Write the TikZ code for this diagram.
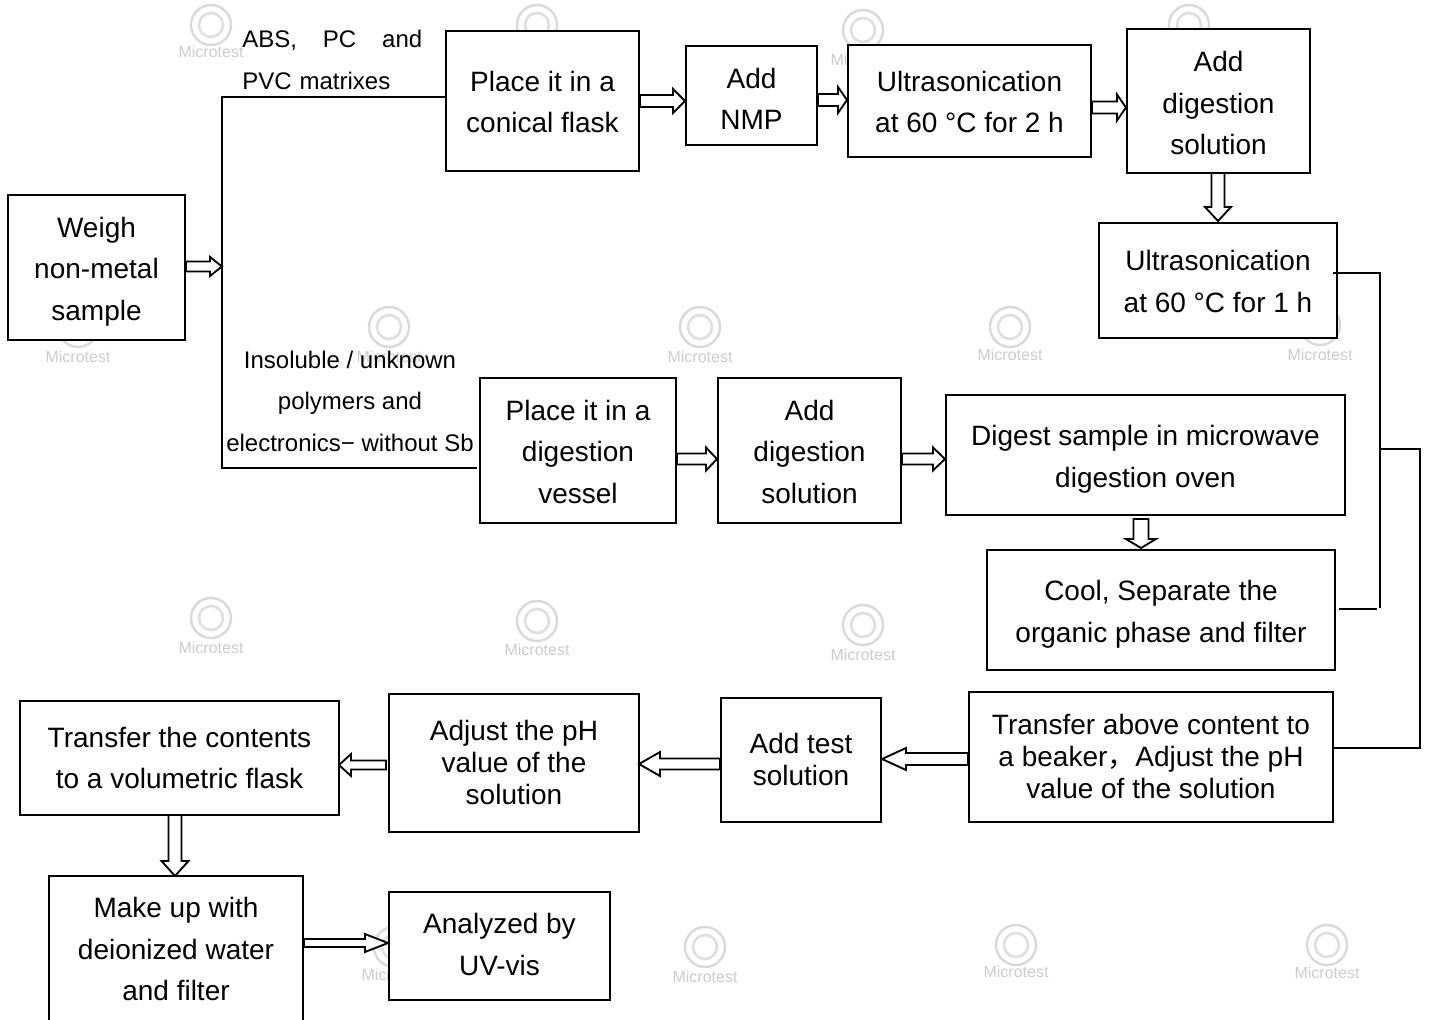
\documentclass[tikz,border=0pt]{standalone}
\usepackage{fontspec}
\setmainfont{Liberation Sans}
\newfontfamily\cjkf{Noto Sans CJK SC}
\usetikzlibrary{arrows.meta,calc}
\tikzset{
  bx/.style 2 args={draw=black,line width=1.5pt,fill=white,minimum width=#1*.75pt,minimum height=#2*.75pt,inner sep=0pt,align=center,font=\fontsize{21}{31.1}\selectfont},
  lbl/.style={inner sep=0pt,align=center,font=\fontsize{18}{31.1}\selectfont},
  wire/.style={draw=black,line width=1.5pt},
  arw/.style={draw=black,line width=1.4pt,fill=white,line join=miter},
  wmt/.style={text=black!20,inner sep=0pt,font=\fontsize{12}{12}\selectfont},
  wmc/.style={draw=black!15,line width=1.8pt,circle,minimum size=30pt,inner sep=0pt,path picture={\draw[black!12,line width=2pt] (path picture bounding box.center) circle (9pt);}}
}
% shift the text of a box down (first line) or up (last line) by #1 px
\newcommand{\dn}[1]{\rule{0pt}{\dimexpr 15.5pt+#1pt*3/2\relax}}
\newcommand{\up}[1]{\rule[\dimexpr -#1pt*3/2\relax]{0pt}{1pt}}
% block arrow: start, end, head length, head width, shaft width (px)
\newcommand{\blockarrow}[5]{%
  \pgfmathsetlengthmacro\ahl{#3*.75pt}%
  \pgfmathsetlengthmacro\ahw{#4*.375pt}%
  \pgfmathsetlengthmacro\asw{#5*.375pt}%
  \coordinate (arwb) at ($#2!\ahl!#1$);
  \draw[arw] ($#1!\asw!90:#2$) -- ($(arwb)!\asw!90:#2$) -- ($(arwb)!\ahw!90:#2$) -- #2
    -- ($(arwb)!\ahw!-90:#2$) -- ($(arwb)!\asw!-90:#2$) -- ($#1!\asw!-90:#2$) -- cycle;
}
\begin{document}
\begin{tikzpicture}[x=.75pt,y=-.75pt]
\useasboundingbox (0,0) rectangle (1429,1020);
\clip (0,0) rectangle (1429,1020);
% watermarks
\foreach \n/\px/\c/\t in {a/211/25/52,b/537/25/52,c/863/30/60,d/1189/25/52,e/78/327/357,f/389/327/357,g/700/327/357,h/1010/327/355,i/1320/325/355,j/211/618/648,k/537/621/650,l/863/625/655,m/394/947/975,o/705/947/977,p/1016/945/972,q/1327/945/973}{
  \node[wmc] (wc\n) at (\px,\c) {};
  \node[wmt] (wt\n) at (\px,\t) {Microtest};
}
% boxes
\node[bx={177}{145}] (weigh) at (96.5,267.5) {\dn{4}Weigh\\non-metal\\sample};
\node[bx={193}{140}] (flask) at (542.5,101) {\dn{1}Place it in a\\conical flask};
\node[bx={131}{99}] (nmp) at (751.5,95.5) {\dn{3}Add\\NMP};
\node[bx={243}{112}] (ultraa) at (969.5,101) {\dn{1}Ultrasonication\\at 60 °C for 2 h};
\node[bx={183}{144}] (diga) at (1218.5,101) {\dn{2}Add\\digestion\\solution};
\node[bx={238}{115}] (ultrab) at (1218,280.5) {\dn{1}Ultrasonication\\at 60 °C for 1 h};
\node[bx={196}{145}] (vessel) at (578,450.5) {\dn{1}Place it in a\\digestion\\vessel};
\node[bx={183}{145}] (digb) at (809.5,450.5) {\dn{1}Add\\digestion\\solution};
\node[bx={399}{120}] (oven) at (1145.5,455) {\dn{4}Digest sample in microwave\\digestion oven};
\node[bx={348}{120}] (cool) at (1161,610) {\dn{4}Cool, Separate the\\organic phase and filter};
\node[bx={364}{130},font=\fontsize{21}{24}\selectfont] (beaker) at (1151,757) {Transfer above content to\\a beaker{\cjkf ，}Adjust the pH\\value of the solution\up{1}};
\node[bx={160}{124},font=\fontsize{21}{24}\selectfont] (test) at (801,760) {Add test\\solution\up{1}};
\node[bx={250}{138},font=\fontsize{21}{24}\selectfont] (adjust) at (514,763) {Adjust the pH\\value of the\\solution\up{1}};
\node[bx={319}{114}] (vol) at (179.5,758) {Transfer the contents\\to a volumetric flask};
\node[bx={254}{146}] (make) at (176,949) {Make up with\\deionized water\\and filter};
\node[bx={221}{108}] (uv) at (499.5,945.5) {Analyzed by\\UV-vis\up{1}};
% labels
\node[lbl,align=left,text width=135pt,anchor=north west] (lab) at (242,30) {ABS,\hfill PC\hfill and\\PVC matrixes};
\node[lbl] (labb) at (350,401) {Insoluble / unknown\\polymers and\\electronics− without Sb};
% wires
\coordinate (jn) at (222,266.5);
\coordinate (ct) at (222,97);
\coordinate (cb) at (222,468);
\coordinate (ce) at (477,468);
\draw[wire] (flask.west |- ct) -- (ct) -- (cb) -- (ce);
\coordinate (r0) at (1333,273);
\coordinate (r1) at (1380,273);
\coordinate (r2) at (1380,608);
\coordinate (r3) at (1380,449);
\coordinate (r4) at (1420,449);
\coordinate (r5) at (1420,748);
\coordinate (r6) at (1339,609);
\coordinate (r7) at (1377,609);
\draw[wire] (r0) -- (r1) -- (r2);
\draw[wire] (r6) -- (r7);
\draw[wire] (r3) -- (r4) -- (r5) -- (beaker.east |- r5);
% block arrows
\coordinate (ya) at (0,101);
\coordinate (yb) at (0,100);
\coordinate (yc) at (0,107.5);
\coordinate (yd) at (0,459);
\coordinate (ye) at (0,759);
\coordinate (yf) at (0,764);
\coordinate (yg) at (0,943);
\coordinate (da) at (1141,519);
\coordinate (db) at (1141,548);
\coordinate (ta) at (720,764);
\coordinate (tb) at (639,764);
\coordinate (ja) at (386,765);
\coordinate (jb) at (339,765);
\coordinate (va) at (175,815);
\coordinate (vb) at (175,876);
\coordinate (ua) at (1218,173);
\coordinate (ub) at (1218,221);
\blockarrow{(weigh.east |- jn)}{(jn)}{12}{19}{10}
\blockarrow{(flask.east |- ya)}{(nmp.west |- ya)}{12}{24}{12}
\blockarrow{(nmp.east |- yb)}{(ultraa.west |- yb)}{9}{26}{12}
\blockarrow{(ultraa.east |- yc)}{(diga.west |- yc)}{9}{26}{12}
\blockarrow{(ua)}{(ub)}{14}{26}{13}
\blockarrow{(vessel.east |- yd)}{(digb.west |- yd)}{11}{23}{11}
\blockarrow{(digb.east |- yd)}{(oven.west |- yd)}{12}{23}{11}
\blockarrow{(da)}{(db)}{9}{30}{15}
\blockarrow{(beaker.west |- ye)}{(test.east |- ye)}{24}{22}{12}
\blockarrow{(ta)}{(tb)}{21}{24}{11}
\blockarrow{(ja)}{(jb)}{12}{22}{9}
\blockarrow{(va)}{(vb)}{15}{27}{13}
\blockarrow{(make.east |- yg)}{(uv.west |- yg)}{23}{18}{8}
\end{tikzpicture}
\end{document}
